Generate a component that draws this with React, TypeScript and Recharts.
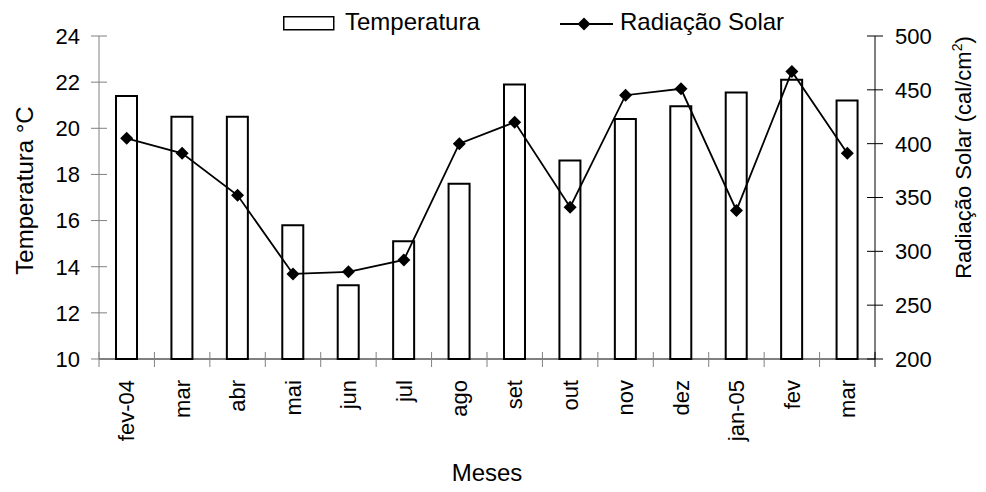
import React from 'react';
import { ComposedChart, Bar, Line, XAxis, YAxis, Legend } from 'recharts';

const meses = ['fev-04', 'mar', 'abr', 'mai', 'jun', 'jul', 'ago', 'set', 'out', 'nov', 'dez', 'jan-05', 'fev', 'mar'];
const temperatura = [21.4, 20.5, 20.5, 15.8, 13.2, 15.1, 17.6, 21.9, 18.6, 20.4, 20.95, 21.55, 22.1, 21.2];
const radiacao = [405, 391, 352, 279, 281, 292, 400, 420, 341, 445, 451, 338, 467, 391];
const tempTicks = [10, 12, 14, 16, 18, 20, 22, 24];
const radTicks = [200, 250, 300, 350, 400, 450, 500];

const data = meses.map((mes, i) => ({ mes, temperatura: temperatura[i], radiacao: radiacao[i] }));

const FONT = '"Liberation Sans", Arial, Helvetica, sans-serif';
const W = 986;
const H = 492;
const MARGIN = { top: 36, right: 5, bottom: 5, left: 5 };
const LEFT_W = 94;
const RIGHT_W = 106;
const X_H = 128;
const BAND = (W - MARGIN.left - MARGIN.right - LEFT_W - RIGHT_W) / meses.length;

// excel-style ticks: between categories, crossing the axis
function XTick(props: any) {
  const { x, y, payload, index } = props;
  const half = BAND / 2;
  return (
    <g>
      <line x1={x - half} x2={x - half} y1={y - 7} y2={y + 8} stroke="#808080" />
      {index === meses.length - 1 && (
        <line x1={x + half} x2={x + half} y1={y - 7} y2={y + 8} stroke="#000" />
      )}
      <text
        x={x}
        y={y + 21}
        transform={`rotate(-90, ${x}, ${y + 21})`}
        textAnchor="end"
        dy="0.35em"
        fontSize={22}
        fill="#000"
      >
        {payload.value}
      </text>
    </g>
  );
}

function LeftTick(props: any) {
  const { x, y, payload } = props;
  return (
    <g>
      <line x1={x - 8} x2={x + 8} y1={y} y2={y} stroke="#808080" />
      <text x={x - 19} y={y} dy="0.36em" textAnchor="end" fontSize={22} fill="#000">
        {payload.value}
      </text>
    </g>
  );
}

function RightTick(props: any) {
  const { x, y, payload } = props;
  return (
    <g>
      <line x1={x - 8} x2={x + 8} y1={y} y2={y} stroke="#000" />
      <text x={x + 20} y={y} dy="0.36em" textAnchor="start" fontSize={22} fill="#000">
        {payload.value}
      </text>
    </g>
  );
}

function LeftTitle(props: any) {
  const vb = props.viewBox || { x: 5, y: 36, width: 94, height: 323 };
  const cx = vb.x + 19;
  const cy = vb.y + vb.height / 2 - 7;
  return (
    <text x={cx} y={cy} transform={`rotate(-90, ${cx}, ${cy})`} textAnchor="middle" dy="0.36em" fontSize={24} fill="#000">
      Temperatura °C
    </text>
  );
}

function RightTitle(props: any) {
  const vb = props.viewBox || { x: 875, y: 36, width: 106, height: 323 };
  const cx = vb.x + vb.width - 18;
  const cy = vb.y + vb.height / 2 - 40;
  return (
    <text x={cx} y={cy} transform={`rotate(-90, ${cx}, ${cy})`} textAnchor="middle" dy="0.36em" fontSize={22} fill="#000">
      <tspan>Radiação Solar (cal/cm</tspan>
      <tspan fontSize={14} dy={-9}>2</tspan>
      <tspan dy={9}>)</tspan>
    </text>
  );
}

function Diamond(props: any) {
  const { cx, cy, index } = props;
  if (cx == null || cy == null) return null;
  const r = 6.5;
  return <path key={index} d={`M${cx},${cy - r}L${cx + r},${cy}L${cx},${cy + r}L${cx - r},${cy}Z`} fill="#000" />;
}

function LegendContent() {
  return (
    <svg width={W} height={40} style={{ display: 'block' }}>
      <rect x={283.75} y={16.75} width={50} height={13} fill="#fff" stroke="#000" strokeWidth={1.5} />
      <text x={345} y={29.5} fontSize={24} fill="#000">Temperatura</text>
      <line x1={560} x2={613} y1={24} y2={24} stroke="#000" strokeWidth={1.8} />
      <path d="M584,17.5L590.5,24L584,30.5L577.5,24Z" fill="#000" />
      <text x={620} y={29.5} fontSize={24} fill="#000">Radiação Solar</text>
    </svg>
  );
}

export default function App() {
  return (
    <div style={{ position: 'absolute', left: 0, top: 0, width: W, height: H, background: '#fff', fontFamily: FONT }}>
      <ComposedChart width={W} height={H} data={data} margin={MARGIN}>
        <XAxis
          dataKey="mes"
          height={X_H}
          interval={0}
          tickLine={false}
          tickSize={0}
          tickMargin={0}
          axisLine={{ stroke: '#000', strokeWidth: 1 }}
          tick={<XTick />}
          label={{ value: 'Meses', position: 'insideBottom', offset: 6, fontSize: 24, fill: '#000' }}
        />
        <YAxis
          yAxisId="temp"
          orientation="left"
          width={LEFT_W}
          domain={[10, 24]}
          ticks={tempTicks}
          interval={0}
          tickLine={false}
          tickSize={0}
          tickMargin={0}
          axisLine={{ stroke: '#808080', strokeWidth: 1 }}
          tick={<LeftTick />}
          label={LeftTitle}
        />
        <YAxis
          yAxisId="rad"
          orientation="right"
          width={RIGHT_W}
          domain={[200, 500]}
          ticks={radTicks}
          interval={0}
          tickLine={false}
          tickSize={0}
          tickMargin={0}
          axisLine={{ stroke: '#000', strokeWidth: 1 }}
          tick={<RightTick />}
          label={RightTitle}
        />
        <Legend
          layout="horizontal"
          verticalAlign="middle"
          align="center"
          wrapperStyle={{ top: 0, left: 0, width: W, height: 40 }}
          content={LegendContent}
        />
        <Bar
          yAxisId="temp"
          dataKey="temperatura"
          name="Temperatura"
          fill="#fff"
          stroke="#000"
          strokeWidth={2}
          barSize={21}
          isAnimationActive={false}
        />
        <Line
          yAxisId="rad"
          dataKey="radiacao"
          name="Radiação Solar"
          stroke="#000"
          strokeWidth={1.8}
          dot={Diamond}
          activeDot={false}
          isAnimationActive={false}
        />
      </ComposedChart>
    </div>
  );
}
